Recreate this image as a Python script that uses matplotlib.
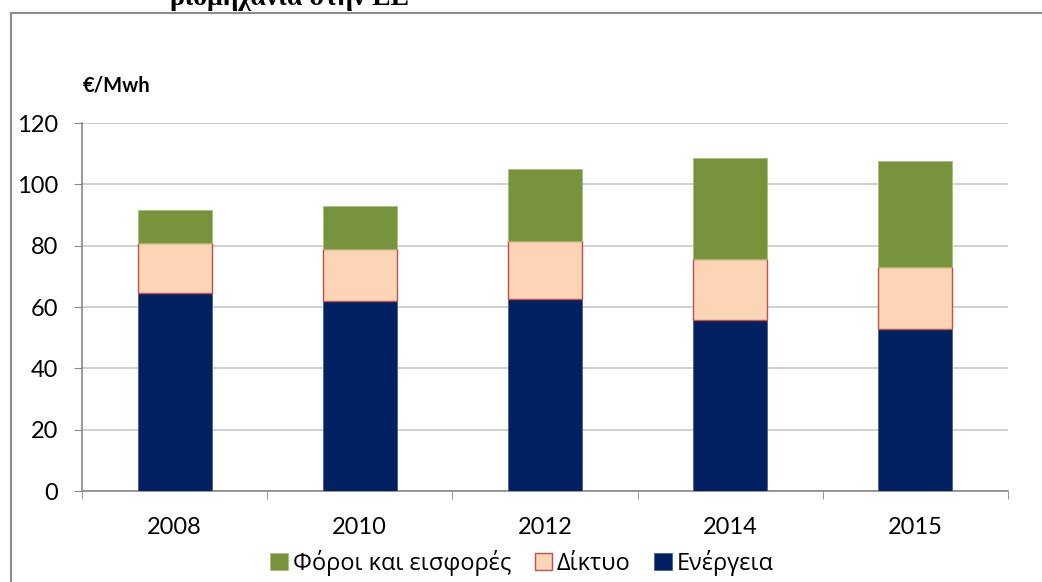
import numpy as np
import matplotlib.pyplot as plt
from matplotlib.patches import Rectangle

years = ['2008', '2010', '2012', '2014', '2015']
energeia = [64.6, 62.0, 62.6, 55.8, 52.8]
diktyo = [16.3, 16.9, 18.9, 19.8, 20.2]
foroi = [10.7, 14.0, 23.5, 33.0, 34.6]

plt.rcParams['font.family'] = ['Lato', 'DejaVu Sans']

fig = plt.figure(figsize=(10.42, 5.82), dpi=100)
W, H = 1042, 582
ax = fig.add_axes([82 / W, (H - 491) / H, (1008 - 82) / W, (491 - 123) / H])

x = np.arange(len(years))
bw = 0.4
b1 = ax.bar(x, energeia, bw, color='#002060', edgecolor='#4a5f8a', linewidth=0.6, zorder=3)
b2 = ax.bar(x, diktyo, bw, bottom=energeia, color='#FCD5B5', edgecolor='#C0504D', linewidth=1.0, zorder=3)
bottom2 = np.array(energeia) + np.array(diktyo)
b3 = ax.bar(x, foroi, bw, bottom=bottom2, color='#77933C', edgecolor='#a9bf80', linewidth=0.6, zorder=3)

ax.set_xlim(-0.5, 4.5)
ax.set_ylim(0, 120)
ax.set_yticks(range(0, 121, 20))
ax.yaxis.grid(True, color='#c8c8c8', linewidth=1.2, zorder=0)
ax.set_axisbelow(True)

ax.set_xticks(x)
ax.set_xticklabels(years)
ax.set_xticks(np.arange(-0.5, 5, 1), minor=True)
ax.tick_params(axis='x', which='major', length=0, pad=19, labelsize=17)
ax.tick_params(axis='x', which='minor', length=6, color='#888888', direction='out')
ax.tick_params(axis='y', length=6, color='#888888', labelsize=17, pad=11)

for s in ['top', 'right']:
    ax.spines[s].set_visible(False)
for s in ['left', 'bottom']:
    ax.spines[s].set_color('#888888')
    ax.spines[s].set_linewidth(1.2)

fig.text(83 / W, 1 - 86 / H, '€/Mwh', fontsize=14.5, fontweight='bold', va='center', ha='left')

# clipped title from document page
fig.text(290 / W, 1 - 5 / H, 'βιομηχανία στην ΕΕ', fontsize=20, fontweight='bold',
         family='Liberation Serif', ha='center', va='baseline')

# chart frame
fig.patches.append(Rectangle((11 / W, -0.1), 1.2, 1 - 13 / H + 0.1, transform=fig.transFigure,
                             fill=False, edgecolor='#8c8c8c', linewidth=1.5))

leg = fig.legend([b3, b2, b1], ['Φόροι και εισφορές', 'Δίκτυο', 'Ενέργεια'],
                 loc='center', bbox_to_anchor=(522 / W, 1 - 563 / H), ncol=3, frameon=False,
                 prop={'family': 'Open Sans', 'size': 17}, handlelength=0.75, handleheight=0.75,
                 handletextpad=0.2, columnspacing=1.0)

fig.savefig('out.png', dpi=100)
